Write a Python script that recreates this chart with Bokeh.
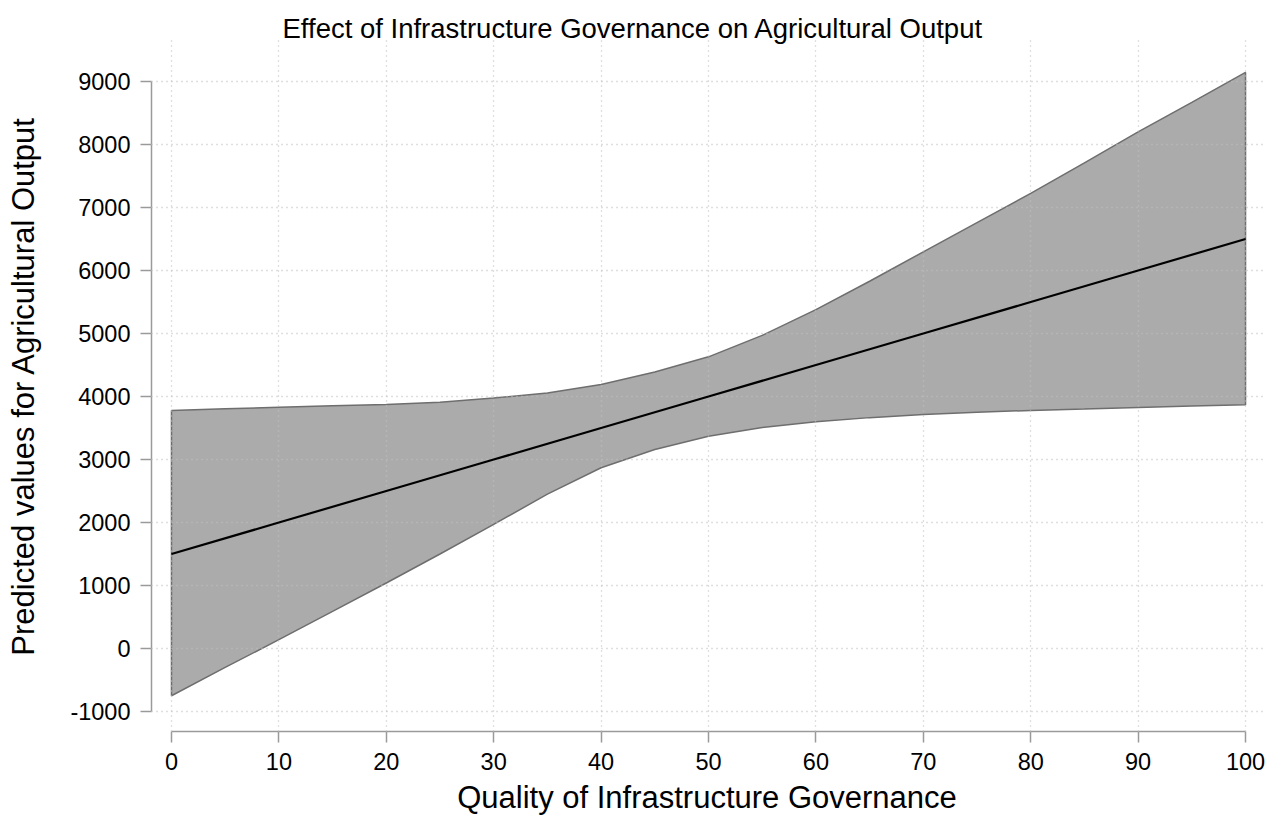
from bokeh.plotting import figure
from bokeh.models import Range1d, FixedTicker, CustomJSTickFormatter
from bokeh.embed import file_html
from bokeh.resources import INLINE

# Data
quality = [0, 5, 10, 15, 20, 25, 30, 35, 40, 45, 50, 55, 60, 65, 70, 75, 80, 85, 90, 95, 100]
upper_ci = [3780, 3805, 3830, 3855, 3875, 3910, 3975, 4055, 4190, 4390, 4630, 4970, 5380,
            5830, 6296, 6760, 7224, 7710, 8200, 8670, 9145]
lower_ci = [-750, -300, 140, 590, 1040, 1500, 1970, 2450, 2870, 3160, 3370, 3510, 3600,
            3665, 3715, 3750, 3780, 3800, 3825, 3848, 3870]
line_x = [0, 10, 20, 30, 40, 50, 60, 70, 80, 90, 100]
predicted = [1500, 2000, 2500, 3000, 3500, 4000, 4500, 5000, 5500, 6000, 6500]
x_ticks = [0, 10, 20, 30, 40, 50, 60, 70, 80, 90, 100]
y_ticks = [-1000, 0, 1000, 2000, 3000, 4000, 5000, 6000, 7000, 8000, 9000]

FONT = "Liberation Sans"

p = figure(width=1270, height=817, output_backend="svg", toolbar_location=None,
           x_range=Range1d(-1.86, 101.58), y_range=Range1d(-1317, 9651),
           title="Effect of Infrastructure Governance on Agricultural Output")
p.min_border_left = 151
p.min_border_right = 8
p.min_border_top = 40
p.min_border_bottom = 86
p.outline_line_color = None
p.background_fill_color = "white"

p.title.align = "left"
p.title.offset = 131
p.title.standoff = -6
p.title.text_font = FONT
p.title.text_font_size = "27.5px"
p.title.text_font_style = "normal"
p.title.text_color = "black"

# band
band_x = quality + quality[::-1]
band_y = upper_ci + lower_ci[::-1]
p.patch(band_x, band_y, fill_color="#ababab", line_color="#6e6e6e", line_width=1.5)

ln = p.line(line_x, predicted, line_color="black", line_width=2.2)
ln.level = "overlay"

fmt = CustomJSTickFormatter(code="return tick.toFixed(0);")

# axes
for ax in (p.xaxis[0], p.yaxis[0]):
    ax.axis_line_color = "#9a9a9a"
    ax.axis_line_width = 1.5
    ax.major_tick_line_color = "#9a9a9a"
    ax.major_tick_line_width = 1.5
    ax.major_tick_out = 11
    ax.major_tick_in = 0
    ax.minor_tick_line_color = None
    ax.major_label_text_font = FONT
    ax.major_label_text_font_size = "23.5px"
    ax.major_label_text_color = "black"
    ax.axis_label_text_font = FONT
    ax.axis_label_text_font_size = "31px"
    ax.axis_label_text_font_style = "normal"
    ax.axis_label_text_color = "black"
    ax.formatter = fmt

p.xaxis[0].ticker = FixedTicker(ticks=x_ticks)
p.yaxis[0].ticker = FixedTicker(ticks=y_ticks)
p.xaxis[0].bounds = (0, 100)
p.yaxis[0].bounds = (-1000, 9000)
p.xaxis[0].axis_label = "Quality of Infrastructure Governance"
p.yaxis[0].axis_label = "Predicted values for Agricultural Output"
p.xaxis[0].major_label_standoff = 10
p.xaxis[0].major_label_text_line_height = 1.0
p.xaxis[0].axis_label_text_line_height = 1.0
p.yaxis[0].major_label_standoff = 10
p.xaxis[0].axis_label_standoff = 7
p.yaxis[0].axis_label_standoff = 26

for g in (p.xgrid[0], p.ygrid[0]):
    g.grid_line_color = "#c0c0c0"
    g.grid_line_dash = "1 4"
    g.grid_line_width = 1.3
    g.level = "annotation"
p.xgrid[0].ticker = FixedTicker(ticks=x_ticks)
p.ygrid[0].ticker = FixedTicker(ticks=y_ticks)

open("out.html", "w").write(file_html(p, INLINE))
